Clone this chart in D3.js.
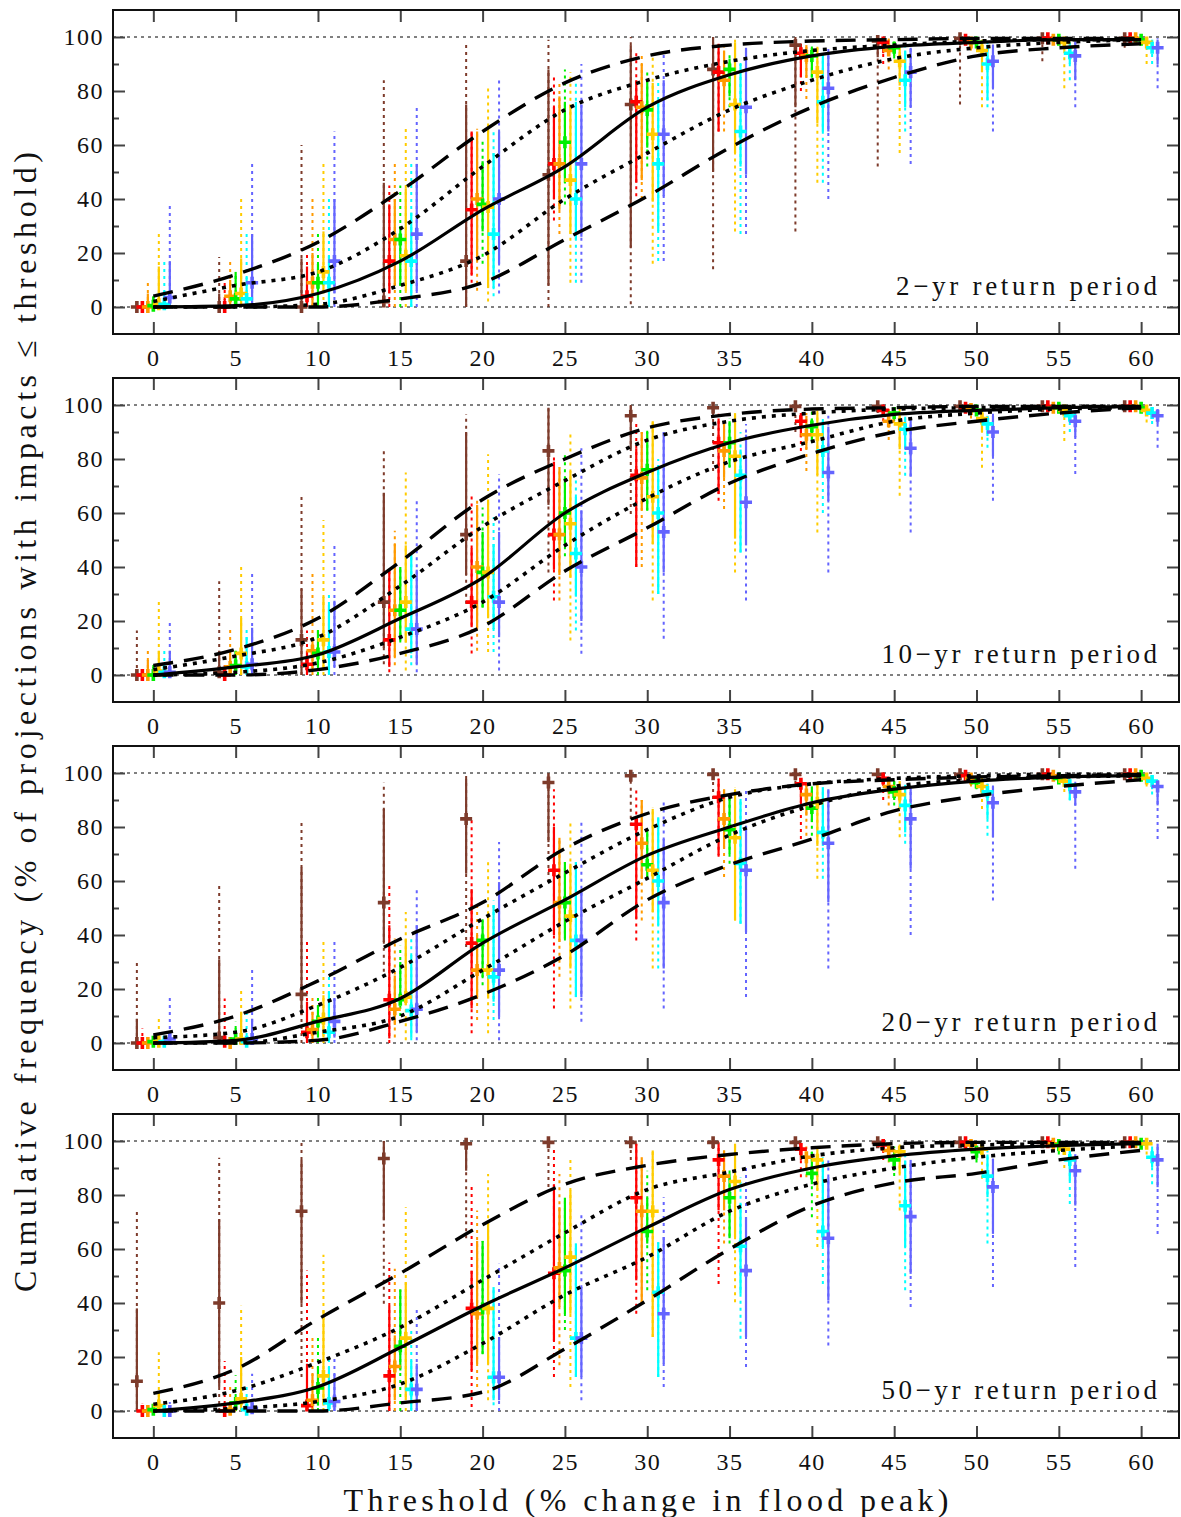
<!DOCTYPE html>
<html><head><meta charset="utf-8">
<script src="https://cdn.jsdelivr.net/npm/d3@7"></script>
<style>body{margin:0;background:#fff}</style>
</head><body>
<svg id="c" width="1181" height="1517"></svg>
<script>
const thresholds = [0,5,10,15,20,25,30,35,40,45,50,55,60];
const seriesNames = ["brown","red","orange","green","gold","cyan","blue"];
const seriesColors = ["#7d3b2b","#ff0000","#ff9a00","#00f000","#ffcc00","#00ffff","#6464ff"];
const seriesOffsets = [-1,-2/3,-1/3,0,1/3,2/3,1];
const panelLabels = ["2\u2212yr return period","10\u2212yr return period","20\u2212yr return period","50\u2212yr return period"];
const xTickLabels = [0,5,10,15,20,25,30,35,40,45,50,55,60];
const yTickLabels = [0,20,40,60,80,100];
const yMinorTicks = [10,30,50,70,90];
const xTitle = "Threshold (% change in flood peak)";
const yTitle = "Cumulative frequency (% of projections with impacts \u2264 threshold)";

// ---------- Panel 1 : 2-yr ----------
const p1Median    = [0,0.5,5,17,36,52,74,86,93,96.5,98,99,99];
const p1DotUpper  = [2,8,13,29,52,73,84,91,95,97,98.5,99,99];
const p1DotLower  = [0,0,1,8,19,40,57,73,84,92,96,98,99];
const p1DashUpper = [4,12,24,43,65,83,93,97,98.5,99,99.5,99.5,99.5];
const p1DashLower = [0,0,0,3,9,25,41,59,74,85,93,96,97.5];
const p1Med = [
 [0,0,0,2,17,49,75,88,97,98.5,99.5,99.5,99.5],
 [0,0,4,17,36,53,76,87,94,98,99,99.5,99.5],
 [0,4,9,25,40,53,74,84,93,95,98,99,99.5],
 [0.5,3,9,25,38,61,73,88,93,96,98,99,99],
 [1,5,13,19,37,47,64,75,87,91,95,98,98],
 [1,3,9,17,27,40,53,65,76,84,90,94,96],
 [3.5,9,17,27,40,53,64,74,81,87,91,93,96]];
const p1SolidHi = [
 [0,5,18,46,75,88,97,100,100,100,100,100,100],
 [1,3,15,38,65,74,84,97.5,97.5,99.5,100,100,100],
 [5,10,20,40,65,78,90,95,97,99,99.5,100,100],
 [4,13,16,30,54,76,84,92,96,98,99,100,100],
 [15,18,28,44,67,75,83,98,96,97,99,99.5,100],
 [6,11,19,35,57,76,76,90,93,95,97,98,99],
 [17,27,40,53,65,75,84,96,94,96,97,98,99]];
const p1SolidLo = [
 [0,0,0,0,0,8,22,50,74,92.5,97,99,99],
 [0,0,0,5,12,40,46,65,85,94,98,99,99],
 [0,0,0,8,17,36,47,73,85,93,97,98,99],
 [0,0,0,8,28,46,59,78,85,93,97,98,98.5],
 [0,0,5,6,7,27,39,57,68,82,87,95,96],
 [0,0,0,0,7,25,28,52,65,74,76.5,90,94],
 [0,1,5,6,16,26,41,49,65,74,81,84,90]];
const p1DotHi = [
 [2.5,18.5,60,84,97.5,99,100,100,100,100,100,100,100],
 [2,10,20,45,66,85,94,98,98,99.5,100,100,100],
 [9,18,41,54,66,84,94,98,98,99.5,100,100,100],
 [4,13,28,45,62,88,88,94,97,98.5,99.5,100,100],
 [28,40,54,67,82,87,94,99,98,99,99.5,100,100],
 [17,28,41,54,65,85,87,91,95,97,98,99,99.5],
 [38,54,65,75,85,90,94,97,96,97,98,99,99.5]];
const p1DotLo = [
 [0,0,0,0,0,0,1,14,28,52,75,91,96],
 [0,0,0,0,9,32,41,65,80,90,97,98,99],
 [0,0,0,0,6,27,40,65,77,88,95,98,99],
 [0,0,0,0,16,38,52,74,85,92,96,98,98],
 [0,0,0,0,2,9,16,28,46,57,74,81,90],
 [0,0,0,0,4,9,17,27,46,65,74,84,90],
 [0,0,0,0,5,9,17,27,40,53,65,74,81]];

// ---------- Panel 2 : 10-yr ----------
const p2Median    = [0,3,7.5,21,36,60,75,86,92.5,96.5,98,99,99.5];
const p2DotUpper  = [2,7,14,33,55,72,87,94,97,98.5,99,99.5,99.5];
const p2DotLower  = [0,1,4.5,14,27,48,65.5,79,86.5,94,97,98.5,99];
const p2DashUpper = [3.5,9.5,21,42,65,80,91.5,96.5,98.5,99,99.5,99.5,99.5];
const p2DashLower = [0,0,2,8,18,38.5,54.5,71,82,90,94,97,99];
const p2Med = [
 [0,1,13,27,52,83,96,99,99.5,99.5,99.5,99.5,99.5],
 [0,0,4,13,27,52,74,86,94,98,99,99.5,99.5],
 [0,3,9,24,40,52,73,83,89,94,98.5,99,99.5],
 [0,3.5,8,24,38,60,76,86,92,97,98,99,99],
 [1.5,8,13,27,38,56,66,81,89,93,95,98,98],
 [1,3,8.5,17,29,45,60,74,83,91,93,96,97],
 [1,4,8.5,17,27,40,53,64,75,84,90,94,96]];
const p2SolidHi = [
 [0,9,32,67.5,90,99,100,100,100,100,100,100,100],
 [0,2,9,39,47,79,84,95,97,99,100,100,100],
 [5.5,8,14,48.5,63,77,90,94,96,98,99.5,100,100],
 [3,9,16.5,40,53,73,90,94,95,98.5,99,100,100],
 [9,21,29,48,65,75.5,94,97,97,97,98,99,99.5],
 [4,14,26,45,48.5,66,77,83.5,94,95,96,98,98.5],
 [9,17.5,27.5,39,53,61,90,89,92,95,96,97.5,98.5]];
const p2SolidLo = [
 [0,0,0,10,37,63,84,97,99,99,99,99,99],
 [0,0,0,3,17.7,39,40,67,88,96,98.5,99,99],
 [0,0,2,6.7,17.7,37,61,73,83.6,91.6,97,98.5,99],
 [0,0,3,12.8,25,48.5,61,77,87,95.5,97,98,98.5],
 [0,0,1.7,12,21,36,48.5,50.5,74,83.6,90,96,97],
 [0,0,0.5,8,17,29,30,45.4,73,83.6,88.5,94,95],
 [0,0,3,4,14,20,38,48,64.5,73.5,81,88,93]];
const p2DotHi = [
 [16.5,34.7,67,84,96.6,99.5,100,100,100,100,100,100,100],
 [0.5,4,16.5,39,67,81,94,98,98.5,99.5,100,100,100],
 [9.4,17.5,38.7,53.4,65.8,77,90,95,97,98.5,100,100,100],
 [4,9,17.7,40,62,82,91,95,97.8,99,99.5,100,100],
 [27.8,41.4,57.4,75,81.8,90,94,97,98,98.5,99,99.5,100],
 [9.4,17.5,30,45.4,58.4,74,80,90,95,96,97,98.5,99],
 [20,38,48,65.4,74.4,84,90,93,96,95,97,98,99]];
const p2DotLo = [
 [0,0,0,4,26.4,38,59.6,75.6,90,97,98,98.5,99],
 [0,0,0,1,8,27.6,40,64.5,83,94,97,98.5,99],
 [0,0,0,3.6,9,27.6,40,61.5,75.6,87,95,98,99],
 [0,0,0,12,25,44,60.8,76.8,86,94,96.5,98,98.5],
 [0,0,0,1.7,8.5,12.8,27.6,38,52.8,66.4,76.8,86.7,93.5],
 [0,0,0,3.6,8.5,16.5,30,45.4,60,73.8,84.2,90,93],
 [0,0,0,1,1.7,7.9,13.4,27.6,38,52.8,64.5,74.4,84.2]];

// ---------- Panel 3 : 20-yr ----------
const p3Median    = [0,1,8,16.5,37,53,69.5,80,89,94,97,98.5,99];
const p3DotUpper  = [2,4,14,28,46,63,79,91,96,98,99,99.5,99.5];
const p3DotLower  = [0,0,4,10,27,45,61,77,88,95,97.5,98.5,99];
const p3DashUpper = [3,10,23,38.5,52,72,85,92,96,97.5,98.5,99,99.5];
const p3DashLower = [0,0,1,8,18,32.5,53,66,75.5,86,91.5,95,97.5];
const p3Med = [
 [0,2,18,52,83,96.5,99,99.5,99.5,99.5,99.5,99.5,99.5],
 [0,0.5,4,16,37,64,81,91,96,98,99,99.5,99.5],
 [0,0,5,12.5,27,52,74,83,92,95,98,99,99.5],
 [0.5,1.5,8,16,38,52,66,79,87,93,96.5,98,99],
 [0.5,1.5,9,17,27,47,64,76,89,92,95,97,98],
 [0.5,0.5,4,12,24.5,38,60,66.5,78,88,93,95.5,97],
 [1.5,1.5,8,12.5,27,38,52,64,74,83,89,93,95]];
const p3SolidHi = [
 [9,31,65,86.7,97.8,100,100,100,100,100,100,100,100],
 [0,0.5,15.3,43.6,57,80,84,97.8,98,99,100,100,100],
 [0,1,11.6,25,40,76,90,94,96,98,99,100,100],
 [1,5.4,14,30,45.4,67,79.3,90.4,95,97,98.5,99,99.5],
 [2,11.6,17.7,38.7,47.3,66.4,86.7,94,96,97,98,99,99.5],
 [1,2,19,32.5,51,67,83.6,90.4,94.7,95,96,97.5,98.5],
 [3,9,16.5,43.6,59.6,56.5,75.6,80.5,94,95,95,96,97]];
const p3SolidLo = [
 [0,0,10.3,37.4,62.7,74.4,97,99,99,99,99,99,99],
 [0,0,0,1.7,12.8,40,46,69.5,89,96,98,99,99],
 [0,0,0,6.7,17,37.4,60.8,72,84.2,92,97,98,99],
 [0,0,2,14,24.5,38.7,60.8,70,81.8,90,95,97,98],
 [0,0,2,14,16.5,27.6,48.5,45.4,73,86.7,92,95,96.5],
 [0,0,0,2,15.3,17,43.6,44.2,73,78,83,90,94],
 [0,0,2,4,9.7,17,27.6,41,52.2,64.5,76.2,88,88]];
const p3DotHi = [
 [31,59.6,81.8,96.5,100,100,100,100,100,100,100,100,100],
 [5.4,16.5,38.7,59.6,83,94,94,98,99,99.5,100,100,100],
 [2,2,17.7,38.7,51,76,90,95,97,98.5,99.5,100,100],
 [1.5,7.9,17,36,46,67,79.3,92,95,97.5,98.5,99.5,100],
 [9.7,20,38.7,48.5,67,81.8,87.3,94.7,96,97,98.5,99,100],
 [1.5,12.8,25,38.7,52.8,67,83.6,90.4,94.7,96,97,98,99],
 [17.7,27.8,38.7,57,74.4,81.8,90.4,93.5,94,95,96,97,98]];
const p3DotLo = [
 [0,0,0,26.4,35.6,59.6,80.5,90.4,96,98,99,99,99],
 [0,0,0,0,3.6,12.8,38,69,75.6,90,97,98.5,99],
 [0,0,0,2,8.5,24.5,45.4,61.5,76.8,88,95,98,99],
 [0,0,0,10,21.4,38,60.8,66.4,76.8,88,94,97,98],
 [0,0,0,1,3.6,12.8,27.6,45.4,60.8,76.2,86.7,93,95],
 [0,0,0,1,8.5,17,27.6,44.2,60.8,73.8,76.8,89.8,92],
 [0,0,0,1,1,7.9,12.8,17,27.6,40,52.8,64.5,75.6]];

// ---------- Panel 4 : 50-yr ----------
const p4Median    = [0,3,9,23.5,39,53,68,82,90,94.5,97,98.3,99];
const p4DotUpper  = [2.5,7.5,18,31,48.5,66,82,88.5,94.5,97.5,98.5,99,99.5];
const p4DotLower  = [0,1,3.5,10,25,43,57,74,84,90,94,96.5,98.3];
const p4DashUpper = [6.5,15.5,34,51,69,84,91,95,97.5,99,99.5,99.5,99.5];
const p4DashLower = [0,0,0,3,7,23,41,60,76,84.5,88,93,96.5];
const p4Med = [
 [11,40,74,93.5,99,99.5,99.5,99.5,99.5,99.5,99.5,99.5,99.5],
 [0,0,2,13,38,51,79,93,97,98.5,99.5,99.5,99.5],
 [0,0.5,4,16.5,36,53,74,87,94,96.5,98.5,99,99.5],
 [0.5,3,8.5,24,38,52,66.5,79,88,93,96,98.5,99],
 [2,4.5,13,27,38,57,74,85,93,96,97,97,99],
 [0,0.5,3,8,12.5,27,44,61,66.5,76,87,93,94],
 [0,1,3.5,8,12.5,27,36,52,64,72,83,89,93]];
const p4SolidHi = [
 [38,71,93,100,100,100,100,100,100,100,100,100,100],
 [0,0,17.5,39,52,84,99,99,99,99.5,100,100,100],
 [0,1,13.8,28,63,75.5,94,96.5,96,98,99,99.5,100],
 [1,5,16.3,45,63,79,79,88,96,97,98,99,99.5],
 [7,20,37.3,47.7,70.6,81.7,96.5,99,97,98,98.5,99,99.5],
 [0.5,2,16.3,18.7,45.9,62,62.5,76.7,92.8,92.8,95,96.5,97],
 [0.5,3,13.8,17.5,27.4,45.9,64.4,71.8,86.6,93,93.4,95,99]];
const p4SolidLo = [
 [0,8.9,39.7,70.6,89,98,99,99,99,99,99,99,99],
 [0,0,0,0,15,26,48.4,74.3,93,97,98.5,99,99],
 [0,0,0,4,17.5,38.5,39.7,74.3,89,94,97,98,99],
 [0,0,2,15,21.2,36,62,64,84,89,93,96,98],
 [0,0,2,4,17.5,36,27.4,64.3,81.7,88,94,95,97],
 [0,0,0,0.5,4,12.6,12.6,43.4,60.7,60.7,79.2,85.4,90.3],
 [0,0,0,0,4,12.6,17.5,27.4,41,50.8,65.6,76.1,82.9]];
const p4DotHi = [
 [74.3,93.8,100,100,100,100,100,100,100,100,100,100,100],
 [2.7,18.5,52,55,84,97,99,99.5,99.5,100,100,100,100],
 [2,8.9,28,52.7,74.3,87.8,94,96.5,98,99,99.5,100,100],
 [2,13.2,27.4,45,63,79.2,89,89.7,96,98,98.5,99.5,100],
 [21.8,39,57.9,75.5,87.8,94,96.5,99,98,99,99,99.5,100],
 [1,8.9,20,29.9,45.9,62,62.5,86.6,94,96.5,96.5,96.5,98],
 [3.3,13.8,20,38.5,54.5,73,79.2,90.3,92.8,93,93.4,95,99]];
const p4DotLo = [
 [0,0,12.6,39.7,64,83,93,97,98,99,99,99,99],
 [0,0,0,0,1.5,12.6,36,47,86.6,93,97,98.5,99],
 [0,0,0,0,8.9,16.9,39.7,62,86.6,92,96,98,99],
 [0,0,0,0,21,30,44.7,62,71.8,87,92,95,97],
 [0,0,0,0,4,8.9,27.4,40.3,60.7,74.3,86,90,95],
 [0,0,0,0,2.1,12.6,12.6,26.8,47,44.7,62,76.7,84],
 [0,0,0,0,0,4,8.9,16.3,24.3,38.5,45.9,53.3,65.6]];

const panels = [
 {label:panelLabels[0], median:p1Median, dotU:p1DotUpper, dotL:p1DotLower, dashU:p1DashUpper, dashL:p1DashLower, med:p1Med, sLo:p1SolidLo, sHi:p1SolidHi, dLo:p1DotLo, dHi:p1DotHi},
 {label:panelLabels[1], median:p2Median, dotU:p2DotUpper, dotL:p2DotLower, dashU:p2DashUpper, dashL:p2DashLower, med:p2Med, sLo:p2SolidLo, sHi:p2SolidHi, dLo:p2DotLo, dHi:p2DotHi},
 {label:panelLabels[2], median:p3Median, dotU:p3DotUpper, dotL:p3DotLower, dashU:p3DashUpper, dashL:p3DashLower, med:p3Med, sLo:p3SolidLo, sHi:p3SolidHi, dLo:p3DotLo, dHi:p3DotHi},
 {label:panelLabels[3], median:p4Median, dotU:p4DotUpper, dotL:p4DotLower, dashU:p4DashUpper, dashL:p4DashLower, med:p4Med, sLo:p4SolidLo, sHi:p4SolidHi, dLo:p4DotLo, dHi:p4DotHi}
];

// ---------- drawing ----------
const svg = d3.select("#c");
const FONT = "'Liberation Serif','Times New Roman',serif";
const L = 113, R = 1179, H = 324, STEP = 368, TOP0 = 10;
const x = d3.scaleLinear().domain([-2.45, 62.3]).range([L, R]);

panels.forEach((p, i) => {
  const top = TOP0 + STEP * i;
  const y = d3.scaleLinear().domain([-10, 110]).range([top + H, top]);
  const g = svg.append("g");

  // reference dotted lines at 0 and 100
  g.selectAll("line.ref").data([0, 100]).join("line")
    .attr("x1", L).attr("x2", R)
    .attr("y1", d => y(d)).attr("y2", d => y(d))
    .attr("stroke", "#000").attr("stroke-width", 1).attr("stroke-dasharray", "3,4");

  // colored ranges and markers
  const items = [];
  seriesNames.forEach((s, k) => thresholds.forEach((t, j) => items.push({
    k, xv: t + seriesOffsets[k], med: p.med[k][j],
    sLo: p.sLo[k][j], sHi: p.sHi[k][j], dLo: p.dLo[k][j], dHi: p.dHi[k][j]
  })));

  g.append("g").selectAll("line").data(items.filter(d => d.dHi > d.dLo)).join("line")
    .attr("x1", d => x(d.xv)).attr("x2", d => x(d.xv))
    .attr("y1", d => y(d.dLo)).attr("y2", d => y(d.dHi))
    .attr("stroke", d => seriesColors[d.k]).attr("stroke-width", 2)
    .attr("stroke-dasharray", "3,4");

  g.append("g").selectAll("line").data(items.filter(d => d.sHi > d.sLo)).join("line")
    .attr("x1", d => x(d.xv)).attr("x2", d => x(d.xv))
    .attr("y1", d => y(d.sLo)).attr("y2", d => y(d.sHi))
    .attr("stroke", d => seriesColors[d.k]).attr("stroke-width", 2.2);

  g.append("g").selectAll("path").data(items).join("path")
    .attr("d", d => {
      const cx = x(d.xv), cy = y(d.med), r = 6;
      return `M${cx - r},${cy}H${cx + r}M${cx},${cy - r}V${cy + r}`;
    })
    .attr("stroke", d => seriesColors[d.k]).attr("stroke-width", 3.6).attr("fill", "none");

  // black summary lines
  const line = d3.line().x(d => x(d[0])).y(d => y(d[1])).curve(d3.curveMonotoneX);
  const pts = arr => thresholds.map((t, j) => [t, arr[j]]);
  const styles = [
    {data: p.dashU, dash: "20,11", w: 3.4},
    {data: p.dashL, dash: "20,11", w: 3.4},
    {data: p.dotU, dash: "4,6", w: 3.6},
    {data: p.dotL, dash: "4,6", w: 3.6},
    {data: p.median, dash: null, w: 3.2}
  ];
  styles.forEach(st => {
    g.append("path").datum(pts(st.data)).attr("d", line)
      .attr("fill", "none").attr("stroke", "#000").attr("stroke-width", st.w)
      .attr("stroke-dasharray", st.dash);
  });

  // axes
  const styleAxis = ax => {
    ax.select(".domain").remove();
    ax.selectAll(".tick line").attr("stroke", "#444").attr("stroke-width", 2);
    ax.selectAll("text").attr("font-family", FONT).attr("font-size", 24)
      .attr("fill", "#111").attr("letter-spacing", 1.5);
  };
  g.append("g").attr("transform", `translate(0,${top + H})`)
    .call(d3.axisBottom(x).tickValues(xTickLabels).tickSizeInner(-12).tickSizeOuter(0).tickPadding(15))
    .call(styleAxis);
  g.append("g").attr("transform", `translate(0,${top})`)
    .call(d3.axisTop(x).tickValues(xTickLabels).tickSizeInner(-12).tickSizeOuter(0).tickFormat(""))
    .call(styleAxis);
  g.append("g").attr("transform", `translate(${L},0)`)
    .call(d3.axisLeft(y).tickValues(yTickLabels).tickSizeInner(-12).tickSizeOuter(0).tickPadding(9))
    .call(styleAxis);
  g.append("g").attr("transform", `translate(${L},0)`)
    .call(d3.axisLeft(y).tickValues(yMinorTicks).tickSizeInner(-6).tickSizeOuter(0).tickFormat(""))
    .call(styleAxis);
  g.append("g").attr("transform", `translate(${R},0)`)
    .call(d3.axisRight(y).tickValues(yTickLabels).tickSizeInner(-12).tickSizeOuter(0).tickFormat(""))
    .call(styleAxis);
  g.append("g").attr("transform", `translate(${R},0)`)
    .call(d3.axisRight(y).tickValues(yMinorTicks).tickSizeInner(-6).tickSizeOuter(0).tickFormat(""))
    .call(styleAxis);

  // frame
  g.append("rect").attr("x", L).attr("y", top).attr("width", R - L).attr("height", H)
    .attr("fill", "none").attr("stroke", "#111").attr("stroke-width", 2);

  // panel label
  g.append("text").attr("x", 1157).attr("y", top + 285)
    .attr("text-anchor", "end").attr("font-family", FONT).attr("font-size", 27)
    .attr("fill", "#111")
    .attr("textLength", p.label.length * 14.5).attr("lengthAdjust", "spacing")
    .text(p.label);
});

// axis titles
svg.append("text").attr("x", 646).attr("y", 1511).attr("text-anchor", "middle")
  .attr("font-family", FONT).attr("font-size", 32).attr("fill", "#111")
  .attr("textLength", 605).attr("lengthAdjust", "spacing").text(xTitle);
svg.append("text").attr("transform", "translate(36,722) rotate(-90)").attr("text-anchor", "middle")
  .attr("font-family", FONT).attr("font-size", 32).attr("fill", "#111")
  .attr("textLength", 1140).attr("lengthAdjust", "spacing").text(yTitle);
</script>
</body></html>
